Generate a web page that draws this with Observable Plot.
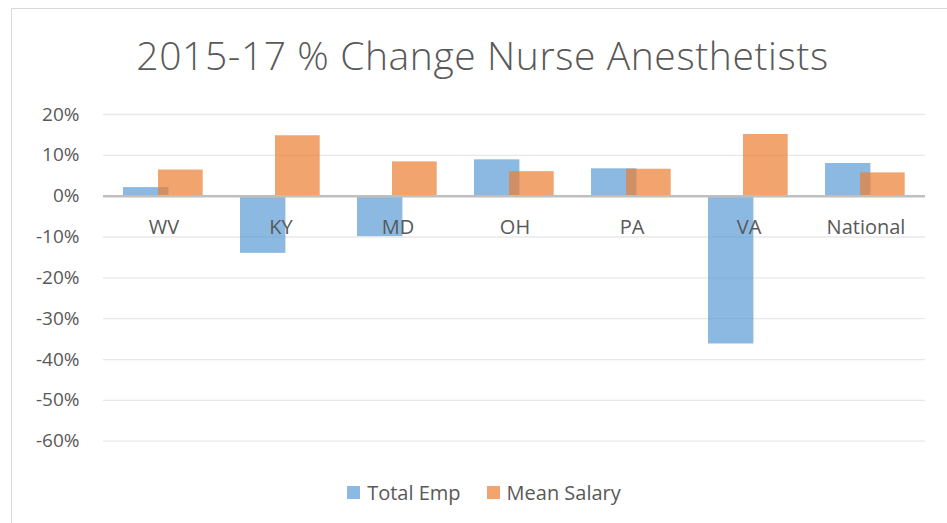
<!DOCTYPE html>
<html>
<head>
<meta charset="utf-8">
<script src="https://cdn.jsdelivr.net/npm/d3@7"></script>
<script src="https://cdn.jsdelivr.net/npm/@observablehq/plot@0.6"></script>
<style>
  html, body { margin: 0; padding: 0; background: #fff; }
  body { width: 947px; height: 523px; position: relative; overflow: hidden; font-family: "Open Sans", sans-serif; }
  #frame { position: absolute; left: 11px; top: 8px; right: -5px; bottom: -5px; border-top: 1.5px solid #D9D9D9; border-left: 1.5px solid #D9D9D9; }
  #title { position: absolute; left: 0; width: 965px; top: 32px; text-align: center; font-size: 39px; font-weight: 300; color: #595959; letter-spacing: 0.6px; white-space: nowrap; line-height: 1.2; }
  #chart { position: absolute; left: 0; top: 100px; }
  #legend { position: absolute; top: 479px; left: 0; width: 968px; display: flex; justify-content: center; gap: 26px; font-size: 20px; color: #595959; }
  .item { display: flex; align-items: center; gap: 7px; }
  .sw { width: 13px; height: 13px; display: inline-block; }
</style>
</head>
<body>
<div id="frame"></div>
<div id="title">2015-17 % Change Nurse Anesthetists</div>
<div id="chart"></div>
<div id="legend"></div>
<script>
const categories = ["WV", "KY", "MD", "OH", "PA", "VA", "National"];
const totalEmp   = [0.021, -0.140, -0.099, 0.089, 0.067, -0.362, 0.080];
const meanSalary = [0.064,  0.148,  0.084, 0.060, 0.066,  0.151, 0.057];
const seriesNames = ["Total Emp", "Mean Salary"];
const seriesColors = ["#5B9BD5", "#ED7D31"];
const yTicks = [0.2, 0.1, 0, -0.1, -0.2, -0.3, -0.4, -0.5, -0.6];

const empData = categories.map((c, i) => ({category: c, value: totalEmp[i]}));
const salData = categories.map((c, i) => ({category: c, value: meanSalary[i]}));

const pct = d => `${Math.round(d * 100)}%`;

const plot = Plot.plot({
  width: 947,
  height: 366,
  marginLeft: 103,
  marginRight: 22,
  marginTop: 14,
  marginBottom: 25.3,
  style: {fontFamily: "Open Sans, sans-serif", background: "transparent", overflow: "visible"},
  x: {domain: categories, padding: 0, axis: null},
  y: {domain: [-0.6, 0.2], axis: null},
  marks: [
    Plot.gridY(yTicks, {stroke: "#E8E8E8", strokeOpacity: 1, strokeWidth: 1.3}),
    Plot.axisY(yTicks, {tickSize: 0, tickPadding: 24, tickFormat: pct, fontSize: 19, fill: "#595959", textAnchor: "end", label: null}),
    Plot.barY(empData, {x: "category", y: "value", fill: seriesColors[0], fillOpacity: 0.7, insetLeft: 18, insetRight: 53.6}),
    Plot.barY(salData, {x: "category", y: "value", fill: seriesColors[1], fillOpacity: 0.7, insetLeft: 53, insetRight: 19.3}),
    Plot.ruleY([0], {stroke: "#BFBFBF", strokeWidth: 2.6}),
    Plot.text(categories, {x: d => d, y: () => 0, dy: 31, fontSize: 20, fill: "#595959", letterSpacing: "0.5px"})
  ]
});
document.getElementById("chart").appendChild(plot);

const legend = document.getElementById("legend");
seriesNames.forEach((name, i) => {
  const item = document.createElement("div");
  item.className = "item";
  const sw = document.createElement("span");
  sw.className = "sw";
  sw.style.background = seriesColors[i];
  sw.style.opacity = 0.7;
  const label = document.createElement("span");
  label.textContent = name;
  item.appendChild(sw);
  item.appendChild(label);
  legend.appendChild(item);
});
</script>
</body>
</html>
